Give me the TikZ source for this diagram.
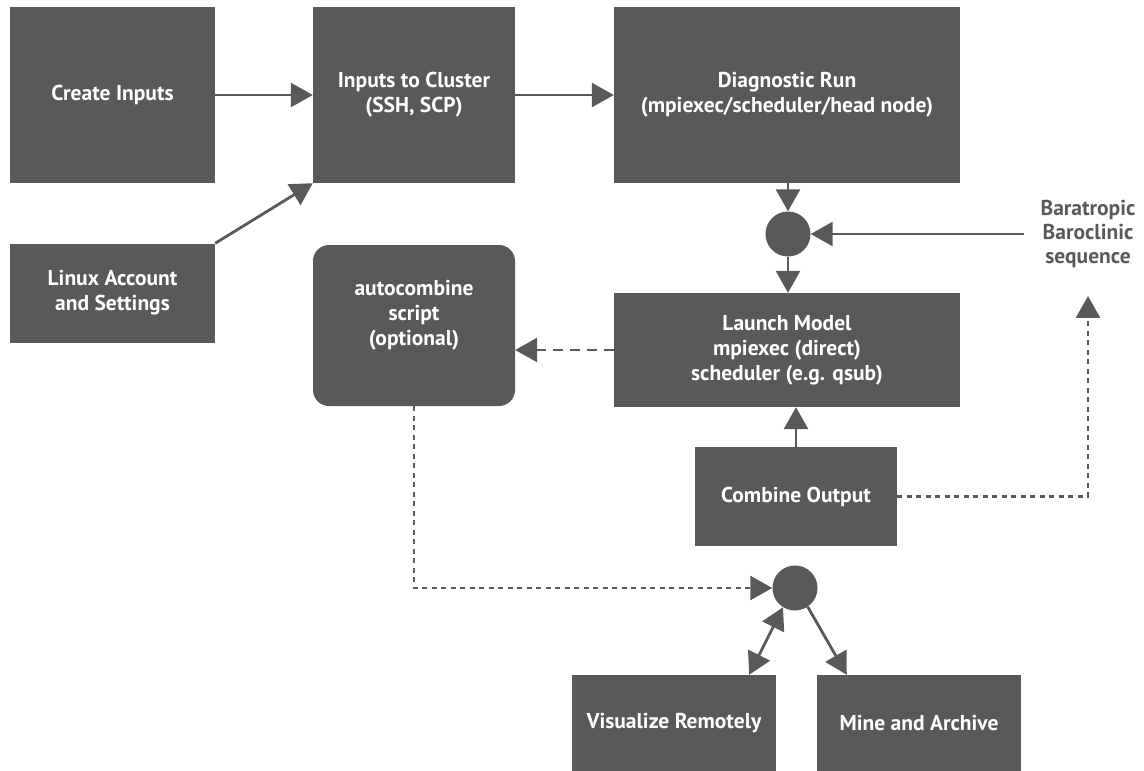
\documentclass[tikz,border=0pt]{standalone}
\usepackage{fontspec}
\setmainfont{PT Sans}
\usetikzlibrary{arrows.meta,calc}
\definecolor{dg}{HTML}{58595B}
\tikzset{
  box/.style={fill=dg, draw=none, text=white, font=\bfseries\fontsize{21.5}{25}\selectfont, align=center, inner sep=0pt},
  blob/.style={circle, fill=dg, draw=none, minimum size=45pt, inner sep=0pt},
  lbl/.style={text=dg, font=\bfseries\fontsize{21.5}{24}\selectfont, align=center, inner sep=2pt},
  tip/.style={-{Triangle[length=22pt,width=24pt]}},
  conn/.style={draw=dg, line width=2.8pt, tip},
  dashconn/.style={conn, dash pattern=on 10pt off 7pt},
  dotconn/.style={conn, dash pattern=on 5pt off 4.5pt},
}
\begin{document}
\begin{tikzpicture}[x=1pt,y=-1pt]
\useasboundingbox (0,0) rectangle (1144,771);
% boxes
\node[box, minimum width=205pt, minimum height=176pt] (ci) at (112.5,95) {Create Inputs};
\node[box, minimum width=202pt, minimum height=176pt] (ic) at (414,95) {Inputs to Cluster\\(SSH, SCP)};
\node[box, minimum width=346pt, minimum height=176pt] (dr) at (787,95) {Diagnostic Run\\(mpiexec/scheduler/head node)};
\node[box, minimum width=205pt, minimum height=99pt] (la) at (112.5,293) {Linux Account\\and Settings};
\node[box, rounded corners=16pt, minimum width=202pt, minimum height=161pt, text depth=26pt] (ac) at (414,325.5) {autocombine\\script\\(optional)};
\node[box, minimum width=346pt, minimum height=114pt] (lm) at (787,350) {Launch Model\\mpiexec (direct)\\scheduler (e.g. qsub)};
\node[box, minimum width=202pt, minimum height=99pt] (co) at (796,496.5) {Combine Output};
\node[box, minimum width=204pt, minimum height=96pt] (vr) at (674,723) {Visualize Remotely};
\node[box, minimum width=204pt, minimum height=96pt] (ma) at (919,723) {Mine and Archive};
\node[blob] (c1) at (788,234) {};
\node[blob] (c2) at (795,588) {};
\node[lbl] (bt) at (1088,234) {Baratropic\\Baroclinic\\sequence};
% connectors
\draw[conn] (ci.east) -- (ic.west);
\draw[conn] (ic.east) -- (dr.west);
\draw[conn] (la.north east) -- (ic.south west);
\draw[conn] (dr.south -| c1) -- (c1.north);
\draw[conn] (c1.south) -- (c1.south |- lm.north);
\draw[conn] ($(bt.west)+(-14,0)$) -- (c1.east);
\draw[conn] (co.north) -- (co.north |- lm.south);
\draw[dashconn] (lm.west) -- (lm.west -| ac.east);
\coordinate (bttip) at ($(bt.south)+(0,26)$);
\draw[dotconn] (co.east) -| (bttip);
\draw[dotconn] (ac.south) |- (c2.west);
\draw[conn, {Triangle[length=22pt,width=24pt]}-{Triangle[length=22pt,width=24pt]}] (c2.238) -- ($(vr.north east)+(-27,0)$);
\draw[conn] (c2.304) -- ($(ma.north west)+(30,0)$);
\end{tikzpicture}
\end{document}
